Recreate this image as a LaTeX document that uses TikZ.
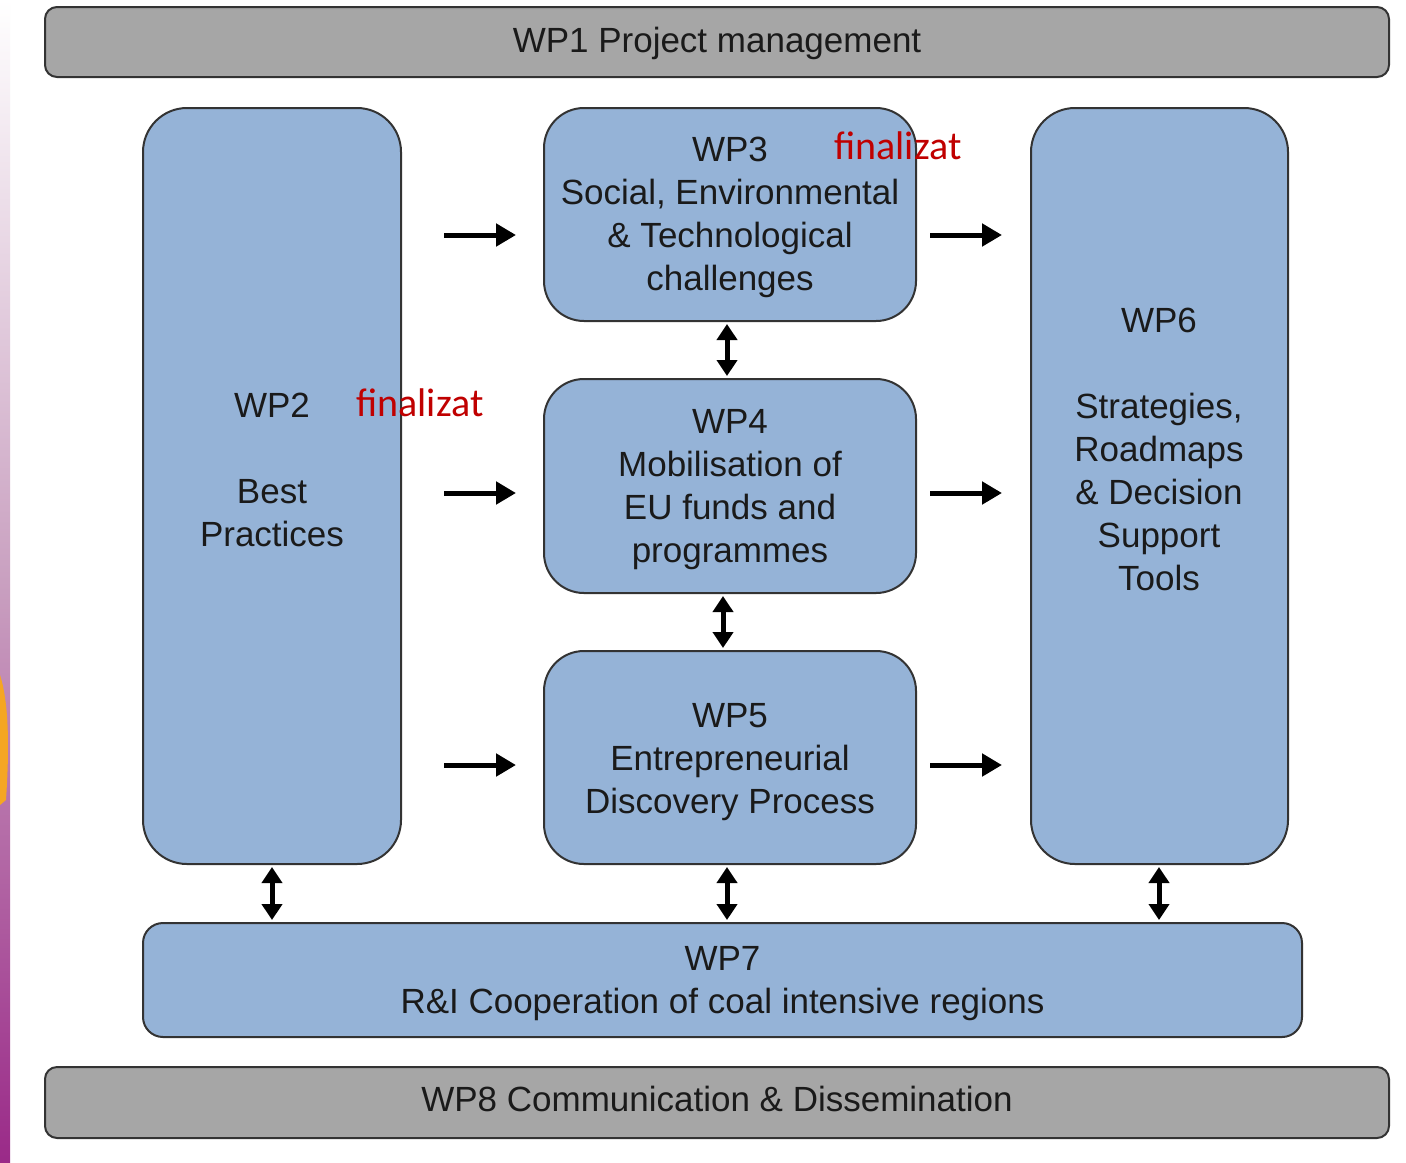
\documentclass[tikz,border=0pt]{standalone}
\usepackage{fontspec}
\setmainfont{Liberation Sans}
\newfontfamily\calib{Carlito}
\usetikzlibrary{arrows.meta}
\definecolor{boxblue}{HTML}{95B3D7}
\definecolor{boxgray}{HTML}{A6A6A6}
\definecolor{edge}{HTML}{333333}
\definecolor{finred}{HTML}{C00000}
\definecolor{stripp}{HTML}{9A2A88}
\definecolor{stripm}{HTML}{C9A0C0}
\definecolor{blob}{HTML}{F5A623}
\definecolor{ink}{HTML}{1A1A1A}
\tikzset{
  wpbox/.style={draw=edge, line width=1pt, fill=boxblue, inner sep=0pt},
  graybox/.style={draw=edge, line width=1pt, fill=boxgray, rounded corners=6pt, inner sep=0pt},
  txt/.style={inner sep=0pt, align=center, text=ink, font=\fontsize{17.5}{21.5}\selectfont},
  fin/.style={inner sep=0pt, text=finred, font=\calib\fontsize{20}{24}\selectfont},
  flow/.style={line width=2.5pt, -{Triangle[length=10pt,width=11pt]}},
  both/.style={line width=2.5pt, {Triangle[length=8pt,width=10pt]}-{Triangle[length=8pt,width=10pt]}, shorten <=1pt, shorten >=1pt}
}
\begin{document}
\begin{tikzpicture}[x=0.5pt,y=-0.5pt]
\useasboundingbox (0,0) rectangle (1406,1162);
\fill[white] (0,0) rectangle (1406,1162);
% left strip
\shade[top color=white, bottom color=stripp, middle color=stripm] (0,0) rectangle (10,1162);
\fill[blob] (0,675) .. controls (8,700) and (10,740) .. (6,800) -- (0,805) -- cycle;

% boxes
\node[graybox, minimum width=672pt, minimum height=35pt] (wp1) at (717,42) {};
\node[txt] (wp1t) at (717,43) {WP1 Project management};
\node[graybox, minimum width=672pt, minimum height=35.5pt] (wp8) at (717,1102.5) {};
\node[txt] (wp8t) at (717,1099) {WP8 Communication \& Dissemination};

\node[wpbox, rounded corners=22pt, minimum width=129pt, minimum height=378pt] (wp2) at (272,486) {};
\node[txt] (wp2t) at (272,470) {WP2\\[21.5pt]Best\\Practices};

\node[wpbox, rounded corners=20pt, minimum width=186pt, minimum height=106.5pt] (wp3) at (730,214.5) {};
\node[txt] (wp3t) at (730,217.5) {WP3\\Social, Environmental\\\& Technological\\challenges};
\node[wpbox, rounded corners=20pt, minimum width=186pt, minimum height=107pt] (wp4) at (730,486) {};
\node[txt] (wp4t) at (730,489.5) {WP4\\Mobilisation of\\EU funds and\\programmes};
\node[wpbox, rounded corners=20pt, minimum width=186pt, minimum height=106.5pt] (wp5) at (730,757.5) {};
\node[txt] (wp5t) at (730,762) {WP5\\Entrepreneurial\\Discovery Process};

\node[wpbox, rounded corners=22pt, minimum width=128.5pt, minimum height=378pt] (wp6) at (1159.5,486) {};
\node[txt] (wp6t) at (1159,449) {WP6\\[21.5pt]Strategies,\\Roadmaps\\\& Decision\\Support\\Tools};

\node[wpbox, rounded corners=10pt, minimum width=579.5pt, minimum height=57pt] (wp7) at (722.5,980) {};
\node[txt] (wp7t) at (722.5,984) {WP7\\R\&I Cooperation of coal intensive regions};

\node[fin] (fin3) at (898,146) {finalizat};
\node[fin] (fin2) at (420,403) {finalizat};

% arrow anchor coordinates
\foreach \y/\n in {235/a,493/b,765/c}{
  \coordinate (l\n1) at (444,\y); \coordinate (l\n2) at (516,\y);
  \coordinate (r\n1) at (930,\y); \coordinate (r\n2) at (1002,\y);
}
\draw[flow] (la1) -- (la2);
\draw[flow] (lb1) -- (lb2);
\draw[flow] (lc1) -- (lc2);
\draw[flow] (ra1) -- (ra2);
\draw[flow] (rb1) -- (rb2);
\draw[flow] (rc1) -- (rc2);

\draw[both] (wp3.south -| 727,0) -- (wp4.north -| 727,0);
\draw[both] (wp4.south -| 723,0) -- (wp5.north -| 723,0);
\draw[both] (wp2.south) -- (wp7.north -| wp2.south);
\draw[both] (wp5.south -| 727,0) -- (wp7.north -| 727,0);
\draw[both] (wp6.south -| 1159,0) -- (wp7.north -| 1159,0);
\end{tikzpicture}
\end{document}
